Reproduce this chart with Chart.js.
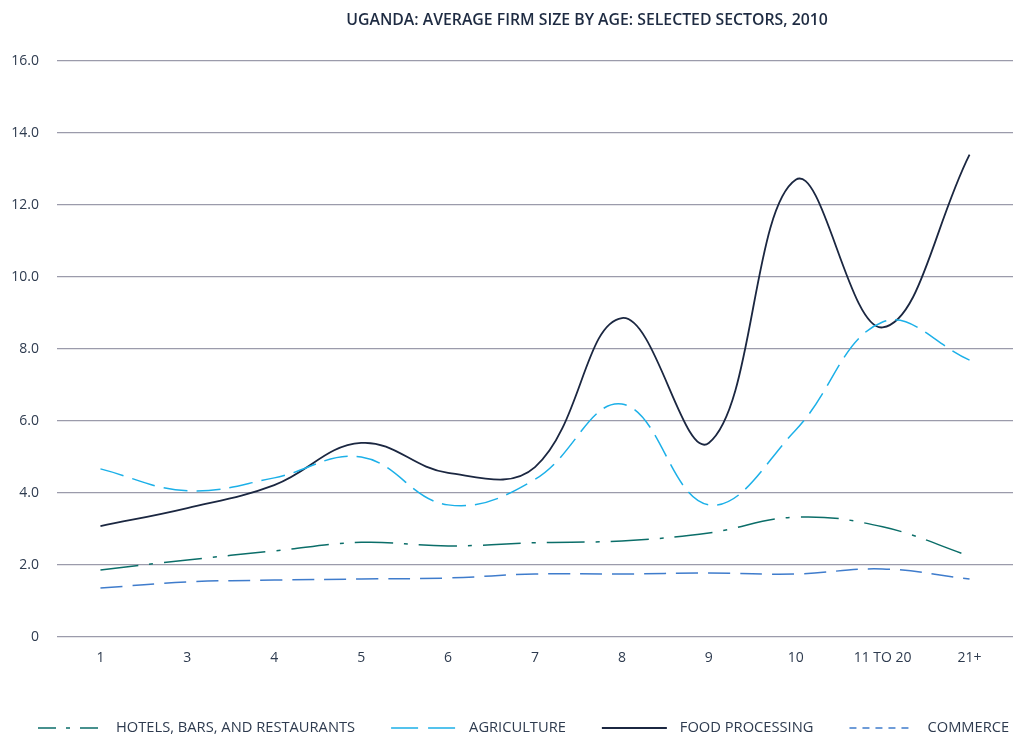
<!DOCTYPE html>
<html>
<head>
<meta charset="utf-8">
<script src="https://cdn.jsdelivr.net/npm/chart.js@4"></script>
<style>
html,body{margin:0;padding:0;background:#fff;}
#wrap{width:1013px;height:737px;position:relative;}
</style>
</head>
<body>
<div id="wrap"><canvas id="c" width="1013" height="737"></canvas></div>
<script>
const chartTitle = 'UGANDA: AVERAGE FIRM SIZE BY AGE: SELECTED SECTORS, 2010';
const categories = ['1', '3', '4', '5', '6', '7', '8', '9', '10', '11 TO 20', '21+'];
const seriesNames = ['HOTELS, BARS, AND RESTAURANTS', 'AGRICULTURE', 'FOOD PROCESSING', 'COMMERCE'];
const hotels = [1.86, 2.14, 2.39, 2.63, 2.53, 2.62, 2.67, 2.89, 3.33, 3.06, 2.25];
const agriculture = [4.67, 4.06, 4.42, 5.0, 3.67, 4.38, 6.47, 3.67, 5.75, 8.75, 7.69];
const foodProcessing = [3.08, 3.58, 4.22, 5.39, 4.56, 4.72, 8.86, 5.39, 12.7, 8.6, 13.4];
const commerce = [1.36, 1.53, 1.58, 1.61, 1.64, 1.75, 1.75, 1.78, 1.75, 1.89, 1.61];
const yTicks = [0, 2, 4, 6, 8, 10, 12, 14, 16];

const FONT = "'Open Sans', 'Noto Sans', sans-serif";
const TEXT = '#2e3b4f';

const titlePlugin = {
  id: 'customTitle',
  afterDraw(chart) {
    const ctx = chart.ctx;
    ctx.save();
    ctx.font = "600 15.8px " + FONT;
    ctx.fillStyle = '#1e2b42';
    ctx.textAlign = 'center';
    ctx.textBaseline = 'middle';
    ctx.fillText(chartTitle, 587, 20);
    ctx.restore();
  }
};

const legendPlugin = {
  id: 'customLegend',
  afterDraw(chart) {
    const ctx = chart.ctx;
    ctx.save();
    ctx.font = "14.7px " + FONT;
    ctx.textBaseline = 'middle';
    let x = 38;
    const y = 728;
    chart.data.datasets.forEach(ds => {
      ctx.strokeStyle = ds.borderColor;
      ctx.lineWidth = ds.borderWidth;
      ctx.setLineDash(ds.legendDash || []);
      ctx.beginPath();
      ctx.moveTo(x, y);
      ctx.lineTo(x + 65, y);
      ctx.stroke();
      ctx.setLineDash([]);
      ctx.fillStyle = TEXT;
      ctx.textAlign = 'left';
      ctx.fillText(ds.label, x + 78, y);
      x += 78 + ctx.measureText(ds.label).width + 36;
    });
    ctx.restore();
  }
};

new Chart(document.getElementById('c'), {
  type: 'line',
  data: {
    labels: categories,
    datasets: [
      { label: seriesNames[0], data: hotels, borderColor: '#0b6e69', borderWidth: 1.5,
        borderDash: [38, 11, 4, 11], legendDash: [18, 10, 4, 10] },
      { label: seriesNames[1], data: agriculture, borderColor: '#1cb0e8', borderWidth: 1.5,
        borderDash: [24, 9], legendDash: [27, 10] },
      { label: seriesNames[2], data: foodProcessing, borderColor: '#1b2741', borderWidth: 1.8,
        borderDash: [], legendDash: [] },
      { label: seriesNames[3], data: commerce, borderColor: '#3f7ccc', borderWidth: 1.5,
        borderDash: [22, 10], legendDash: [7, 6] }
    ]
  },
  options: {
    responsive: false,
    animation: false,
    devicePixelRatio: 1,
    layout: { padding: { top: 61, right: 0, bottom: 70, left: 0 } },
    elements: {
      line: { tension: 0.4, fill: false },
      point: { radius: 0 }
    },
    plugins: {
      legend: { display: false },
      title: { display: false },
      tooltip: { enabled: false }
    },
    scales: {
      x: {
        offset: true,
        grid: { display: false, drawTicks: false },
        border: { display: false },
        ticks: { color: TEXT, font: { family: FONT, size: 14 }, padding: 13, maxRotation: 0, autoSkip: false },
        afterFit(scale) { scale.height = 30; }
      },
      y: {
        min: 0, max: 16,
        afterBuildTicks(scale) { scale.ticks = yTicks.map(v => ({ value: v })); },
        grid: { color: '#9b9bab', lineWidth: 1.2, drawTicks: false },
        border: { display: false },
        ticks: {
          color: TEXT, font: { family: FONT, size: 14 }, padding: 18,
          callback: v => v === 0 ? '0' : Number(v).toFixed(1)
        },
        afterFit(scale) { scale.width = 57; }
      }
    }
  },
  plugins: [titlePlugin, legendPlugin]
});
</script>
</body>
</html>
